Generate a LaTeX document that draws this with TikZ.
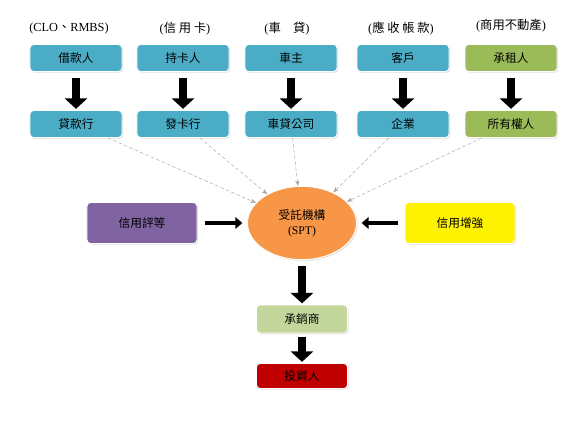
\documentclass[tikz,border=0pt]{standalone}
\usepackage{fontspec}
\setmainfont{Liberation Serif}
\newfontfamily\cjk{Noto Sans CJK TC}
\usetikzlibrary{arrows.meta, shadows, shapes.geometric}

\definecolor{aquabox}{HTML}{4BACC6}
\definecolor{olivebox}{HTML}{9BBB59}
\definecolor{purplebox}{HTML}{8064A2}
\definecolor{orangebox}{HTML}{F79646}
\definecolor{palegreen}{HTML}{C3D69B}
\definecolor{redbox}{HTML}{C00000}

\begin{document}
\begin{tikzpicture}[x=0.03cm, y=-0.03cm,
                    box/.style={rectangle, rounded corners=3pt, draw=white, thick, minimum width=2.76cm, minimum height=0.81cm,
                                font=\fontsize{10}{12}\selectfont\cjk, drop shadow={opacity=0.25, shadow xshift=1pt, shadow yshift=-1pt}},
                    head/.style={font=\fontsize{10.5}{12}\selectfont},
                    blk/.style={-{Triangle[width=19pt,length=9pt]}, line width=7pt, shorten <=5pt, shorten >=1pt},
                    hblk/.style={-{Triangle[width=10pt,length=6pt]}, line width=3pt, shorten <=6pt, shorten >=4pt},
                    feed/.style={->, >=Stealth, gray!70, densely dashed, thin}]

    \useasboundingbox (0,0) rectangle (579,437);

    % headings
    \node[head] (h0) at (69,29)  {(CLO{\cjk 、}RMBS)};
    \node[head] (h1) at (185,29) {({\cjk 信\ 用\ 卡})};
    \node[head] (h2) at (287,29) {({\cjk 車\quad 貸})};
    \node[head] (h3) at (401,29) {({\cjk 應\ 收\ 帳\ 款})};
    \node[head] (h4) at (511,26) {({\cjk 商用不動產})};

    % first row
    \node[box, fill=aquabox]  (r0) at (76,58)  {借款人};
    \node[box, fill=aquabox]  (r1) at (183,58) {持卡人};
    \node[box, fill=aquabox]  (r2) at (291,58) {車主};
    \node[box, fill=aquabox]  (r3) at (403,58) {客戶};
    \node[box, fill=olivebox] (r4) at (511,58) {承租人};

    % second row
    \node[box, fill=aquabox]  (s0) at (76,124)  {貸款行};
    \node[box, fill=aquabox]  (s1) at (183,124) {發卡行};
    \node[box, fill=aquabox]  (s2) at (291,124) {車貸公司};
    \node[box, fill=aquabox]  (s3) at (403,124) {企業};
    \node[box, fill=olivebox] (s4) at (511,124) {所有權人};

    \draw[blk] (r0) -- (s0);
    \draw[blk] (r1) -- (s1);
    \draw[blk] (r2) -- (s2);
    \draw[blk] (r3) -- (s3);
    \draw[blk] (r4) -- (s4);

    % trust and the two sides
    \node[ellipse, fill=orangebox, draw=white, thick, minimum width=3.27cm, minimum height=2.2cm,
          font=\fontsize{10}{13}\selectfont, align=center,
          drop shadow={opacity=0.25, shadow xshift=1pt, shadow yshift=-1pt}] (spt) at (302,223) {{\cjk 受託機構}\\(SPT)};
    \node[box, fill=purplebox, minimum width=3.3cm, minimum height=1.23cm] (rate) at (142,223) {信用評等};
    \node[box, fill=yellow, minimum width=3.3cm, minimum height=1.23cm]    (enh)  at (460,223) {信用增強};

    \draw[feed] (s0) -- (spt);
    \draw[feed] (s1) -- (spt);
    \draw[feed] (s2) -- (spt);
    \draw[feed] (s3) -- (spt);
    \draw[feed] (s4) -- (spt);

    \draw[hblk] (rate) -- (spt);
    \draw[hblk] (enh) -- (spt);

    % distribution
    \node[box, fill=palegreen, minimum width=2.73cm, minimum height=0.84cm] (uw)  at (302,319) {承銷商};
    \node[box, fill=redbox, minimum width=2.73cm, minimum height=0.75cm]    (inv) at (302,376) {投資人};

    \draw[blk] (spt) -- (uw);
    \draw[blk, shorten <=3pt] (uw) -- (inv);
\end{tikzpicture}
\end{document}
